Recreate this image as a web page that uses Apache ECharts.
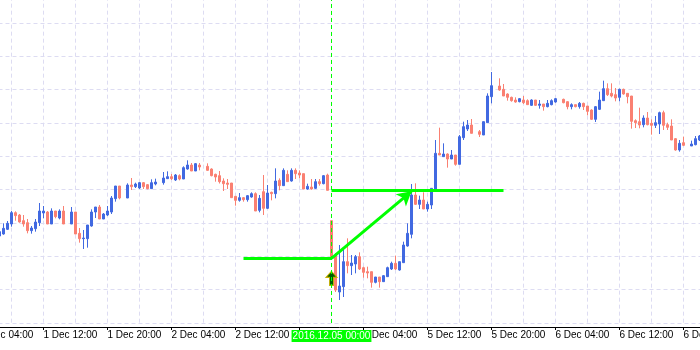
<!DOCTYPE html>
<html>
<head>
<meta charset="utf-8">
<script src="https://cdn.jsdelivr.net/npm/echarts@6/dist/echarts.min.js"></script>
<style>
  html, body { margin: 0; padding: 0; background: #ffffff; overflow: hidden; width: 700px; height: 350px; }
  #chart { position: absolute; left: -24px; top: -12px; width: 728px; height: 362px; }
</style>
</head>
<body>
<div id="chart"></div>
<script>
// EURUSD M30, 1 Dec 04:00 – 6 Dec 22:00 2016 (weekend skipped)
const categories = [
  '2016.12.01 04:00','2016.12.01 04:30','2016.12.01 05:00','2016.12.01 05:30','2016.12.01 06:00','2016.12.01 06:30','2016.12.01 07:00','2016.12.01 07:30',
  '2016.12.01 08:00','2016.12.01 08:30','2016.12.01 09:00','2016.12.01 09:30','2016.12.01 10:00','2016.12.01 10:30','2016.12.01 11:00','2016.12.01 11:30',
  '2016.12.01 12:00','2016.12.01 12:30','2016.12.01 13:00','2016.12.01 13:30','2016.12.01 14:00','2016.12.01 14:30','2016.12.01 15:00','2016.12.01 15:30',
  '2016.12.01 16:00','2016.12.01 16:30','2016.12.01 17:00','2016.12.01 17:30','2016.12.01 18:00','2016.12.01 18:30','2016.12.01 19:00','2016.12.01 19:30',
  '2016.12.01 20:00','2016.12.01 20:30','2016.12.01 21:00','2016.12.01 21:30','2016.12.01 22:00','2016.12.01 22:30','2016.12.01 23:00','2016.12.01 23:30',
  '2016.12.02 00:00','2016.12.02 00:30','2016.12.02 01:00','2016.12.02 01:30','2016.12.02 02:00','2016.12.02 02:30','2016.12.02 03:00','2016.12.02 03:30',
  '2016.12.02 04:00','2016.12.02 04:30','2016.12.02 05:00','2016.12.02 05:30','2016.12.02 06:00','2016.12.02 06:30','2016.12.02 07:00','2016.12.02 07:30',
  '2016.12.02 08:00','2016.12.02 08:30','2016.12.02 09:00','2016.12.02 09:30','2016.12.02 10:00','2016.12.02 10:30','2016.12.02 11:00','2016.12.02 11:30',
  '2016.12.02 12:00','2016.12.02 12:30','2016.12.02 13:00','2016.12.02 13:30','2016.12.02 14:00','2016.12.02 14:30','2016.12.02 15:00','2016.12.02 15:30',
  '2016.12.02 16:00','2016.12.02 16:30','2016.12.02 17:00','2016.12.02 17:30','2016.12.02 18:00','2016.12.02 18:30','2016.12.02 19:00','2016.12.02 19:30',
  '2016.12.02 20:00','2016.12.02 20:30','2016.12.02 21:00','2016.12.02 21:30','2016.12.02 22:00','2016.12.02 22:30','2016.12.02 23:00','2016.12.02 23:30',
  '2016.12.05 00:00','2016.12.05 00:30','2016.12.05 01:00','2016.12.05 01:30','2016.12.05 02:00','2016.12.05 02:30','2016.12.05 03:00','2016.12.05 03:30',
  '2016.12.05 04:00','2016.12.05 04:30','2016.12.05 05:00','2016.12.05 05:30','2016.12.05 06:00','2016.12.05 06:30','2016.12.05 07:00','2016.12.05 07:30',
  '2016.12.05 08:00','2016.12.05 08:30','2016.12.05 09:00','2016.12.05 09:30','2016.12.05 10:00','2016.12.05 10:30','2016.12.05 11:00','2016.12.05 11:30',
  '2016.12.05 12:00','2016.12.05 12:30','2016.12.05 13:00','2016.12.05 13:30','2016.12.05 14:00','2016.12.05 14:30','2016.12.05 15:00','2016.12.05 15:30',
  '2016.12.05 16:00','2016.12.05 16:30','2016.12.05 17:00','2016.12.05 17:30','2016.12.05 18:00','2016.12.05 18:30','2016.12.05 19:00','2016.12.05 19:30',
  '2016.12.05 20:00','2016.12.05 20:30','2016.12.05 21:00','2016.12.05 21:30','2016.12.05 22:00','2016.12.05 22:30','2016.12.05 23:00','2016.12.05 23:30',
  '2016.12.06 00:00','2016.12.06 00:30','2016.12.06 01:00','2016.12.06 01:30','2016.12.06 02:00','2016.12.06 02:30','2016.12.06 03:00','2016.12.06 03:30',
  '2016.12.06 04:00','2016.12.06 04:30','2016.12.06 05:00','2016.12.06 05:30','2016.12.06 06:00','2016.12.06 06:30','2016.12.06 07:00','2016.12.06 07:30',
  '2016.12.06 08:00','2016.12.06 08:30','2016.12.06 09:00','2016.12.06 09:30','2016.12.06 10:00','2016.12.06 10:30','2016.12.06 11:00','2016.12.06 11:30',
  '2016.12.06 12:00','2016.12.06 12:30','2016.12.06 13:00','2016.12.06 13:30','2016.12.06 14:00','2016.12.06 14:30','2016.12.06 15:00','2016.12.06 15:30',
  '2016.12.06 16:00','2016.12.06 16:30','2016.12.06 17:00','2016.12.06 17:30','2016.12.06 18:00','2016.12.06 18:30','2016.12.06 19:00','2016.12.06 19:30',
  '2016.12.06 20:00','2016.12.06 20:30','2016.12.06 21:00','2016.12.06 21:30','2016.12.06 22:00'
];

const openP = [null,null,null,null,null,
  1.05844,1.05868,1.05924,1.05988,1.06124,1.06096,1.06028,1.06004,1.05908,1.05932,
  1.06004,1.0612,1.06132,1.05988,1.06144,1.0606,1.06144,null,1.05988,1.06132,
  1.05876,1.05812,1.05812,1.05964,1.06132,1.06192,1.06048,1.06096,1.06132,1.06292,
  1.06444,null,1.063,1.06456,1.06436,1.0642,1.06484,1.0646,1.06412,1.06468,
  null,1.06484,1.06532,1.06556,1.06516,1.06568,1.06528,1.06648,1.06696,1.06624,
  1.06696,null,1.0668,1.06648,1.06584,1.06568,1.06504,1.0648,1.0648,1.0632,
  1.06272,1.06304,1.0628,1.06312,1.06352,1.06152,1.06376,1.06176,1.06368,1.06352,
  1.06512,1.06448,1.06584,1.06504,1.06632,1.066,1.06592,1.06408,1.06432,1.06416,
  1.06496,1.06472,1.06576,1.06028,1.05616,1.05172,1.05236,1.05536,1.05488,1.05508,
  1.05596,1.05464,1.05416,1.05416,1.05288,1.05352,1.05296,1.05356,1.05448,1.05516,
  1.05436,1.05524,1.05724,1.05864,1.06336,1.06224,1.06276,1.06168,1.06216,1.06396,
  1.06836,1.06796,1.06828,1.06768,1.06816,1.06704,1.07024,1.07128,1.07176,null,
  1.07096,1.07056,1.07204,1.07516,null,1.07644,1.07604,1.07548,1.07508,1.07476,
  1.07456,1.07476,1.07468,1.07412,1.07476,1.07412,1.07428,1.07396,1.0742,1.07452,
  null,1.07484,1.07456,1.07396,1.0742,1.07396,1.07436,1.07404,1.07356,1.07244,
  1.07364,1.07468,1.07612,1.07556,1.0754,1.07508,1.07604,1.07556,1.07524,1.07228,
  1.07216,1.0718,1.0726,1.07196,1.07172,1.07188,1.07324,1.0718,1.07164,1.07012,
  1.06876,1.06964,null,1.06924,1.0694,1.06996
];

const closeP = [null,null,null,null,null,
  1.05896,1.05936,1.05996,1.06124,1.06088,1.06012,1.05988,1.05908,1.0594,1.06012,
  1.06144,1.06144,1.05988,1.06144,1.06076,1.06144,1.05988,null,1.06132,1.05868,
  1.05812,1.0582,1.05976,1.06132,1.06192,1.06048,1.06108,1.06144,1.063,1.06444,
  1.063,null,1.06456,1.06436,1.06468,1.06484,1.06436,1.06412,1.06484,1.06492,
  null,1.0654,1.06556,1.06532,1.06576,1.06528,1.06664,1.06696,1.06624,1.06712,
  1.06672,null,1.06632,1.06568,1.06552,1.06496,1.06472,1.06464,1.06304,1.06272,
  1.06304,1.0628,1.06328,1.06352,1.06144,1.06296,1.06176,1.0636,1.06352,1.06504,
  1.06448,1.06632,1.06496,1.06632,1.06592,1.06576,1.06408,1.0644,1.06408,1.06496,
  1.06472,1.06568,1.06392,1.0558,1.05196,1.05244,1.05536,1.05488,1.0552,1.05596,
  1.05448,1.05408,1.054,1.05288,1.05352,1.05296,1.05368,1.05464,1.05516,1.05448,
  1.05536,1.05736,1.05876,1.06336,1.06224,1.06276,1.06168,1.06224,1.06416,1.06836,
  1.06816,1.06828,1.06768,1.06816,1.06704,1.07036,1.07156,1.07176,1.07076,null,
  1.07064,1.07216,1.07524,1.07648,null,1.07596,1.07524,1.07508,1.07468,1.07452,
  1.07492,1.07444,1.0742,1.07476,1.07412,1.07428,1.07396,1.07436,1.07468,1.07492,
  null,1.07444,1.07396,1.0742,1.07396,1.07436,1.07396,1.0734,1.07244,1.07396,
  1.07476,1.07612,1.0754,1.07524,1.075,1.07604,1.07548,1.07516,1.0722,1.07204,
  1.07176,1.0726,1.0718,1.07172,1.07204,1.07324,1.07172,1.07148,1.06996,1.06876,
  1.06956,1.06932,null,1.06948,1.07012,1.07044
];

const lowP = [null,null,null,null,null,
  1.05828,1.0586,1.05916,1.05956,1.06028,1.06004,1.05956,1.05876,1.05872,1.05896,
  1.05964,1.06056,1.05988,1.05988,1.06056,1.06044,1.05988,null,1.05988,1.05868,
  1.05764,1.05688,1.05704,1.05956,1.0606,1.06048,1.06048,1.06084,1.06108,1.06256,
  1.06284,null,1.063,1.06396,1.0642,1.06408,1.06408,1.06404,1.06412,1.06452,
  null,1.0646,1.06532,1.06516,1.06504,1.06512,1.06528,1.0664,1.06624,1.06624,
  1.06632,null,1.06628,1.0656,1.06496,1.06474,1.06384,1.06408,1.06304,1.06208,
  1.06256,1.06256,1.06256,1.06304,1.06144,1.06128,1.06096,1.06168,1.06272,1.06296,
  1.06392,1.06448,1.06496,1.06496,1.06528,1.06536,1.06408,1.064,1.064,1.06408,
  1.06448,1.06464,1.06392,1.05568,1.05172,1.05076,1.05112,1.05396,1.05376,1.05396,
  1.05436,1.05344,1.05336,1.05224,1.05276,1.05224,1.05296,1.05356,1.05436,1.05436,
  1.05428,1.05524,1.05716,1.05816,1.06216,1.06168,1.06168,1.06136,1.06168,1.06376,
  1.06816,1.06796,1.06664,1.06768,1.06688,1.06704,1.06996,1.07104,1.07076,null,
  1.07032,1.07056,1.07204,1.07436,null,1.07588,1.07524,1.07468,1.07456,1.07444,
  1.07448,1.07428,1.0742,1.07404,1.07404,1.07372,1.07348,1.07388,1.07412,1.07444,
  null,1.07436,1.07364,1.07364,1.07388,1.07372,1.07356,1.07292,1.07236,1.07212,
  1.07356,1.07468,1.07524,1.07508,1.0746,1.0746,1.0754,1.07436,1.07132,1.0714,
  1.07136,1.07148,1.07172,1.0706,1.0714,1.07068,1.07116,1.07116,1.06996,1.06868,
  1.06856,1.06924,null,1.06924,1.06932,1.06984
];

const highP = [null,null,null,null,null,
  1.05916,1.05996,1.06024,1.06144,1.0614,1.06108,1.06096,1.06048,1.05964,1.06048,
  1.0624,1.06204,1.06144,1.06176,1.06144,1.06164,1.06204,null,1.06192,1.06132,
  1.0594,1.05916,1.05976,1.06164,1.06192,1.06216,1.0612,1.06204,1.06324,1.06444,
  1.06444,null,1.06476,1.0654,1.06484,1.06492,1.06492,1.06468,1.06524,1.06532,
  null,1.06612,1.0662,1.06588,1.06588,1.06584,1.0668,1.06752,1.0672,1.0672,
  1.0672,null,1.06716,1.06656,1.06592,1.06624,1.06536,1.06528,1.0648,1.0632,
  1.0636,1.06312,1.06336,1.06368,1.06368,1.06336,1.06576,1.06456,1.06376,1.06656,
  1.06536,1.06656,1.06632,1.06656,1.06656,1.06632,1.06592,1.06472,1.06528,1.06528,
  1.06528,1.06576,1.06592,1.06028,1.0564,1.05736,1.05676,1.05816,1.05616,1.05616,
  1.05648,1.05476,1.05476,1.05416,1.05352,1.05352,1.05376,1.05476,1.05536,1.05608,
  1.05536,1.05776,1.05996,1.06468,1.06476,1.06328,1.06368,1.06256,1.06416,1.06996,
  1.07144,1.06956,1.06836,1.06876,1.06816,1.07056,1.07216,1.07236,1.07248,null,
  1.07116,1.07216,1.07556,1.07812,null,1.07736,1.07668,1.07556,1.07516,1.07508,
  1.075,1.07524,1.07484,1.07484,1.07476,1.07476,1.07428,1.07476,1.07484,1.075,
  null,1.07492,1.0746,1.07436,1.0742,1.07452,1.07444,1.07404,1.07364,1.07404,
  1.07576,1.07708,1.07676,1.07676,1.0762,1.07612,1.07612,1.07556,1.07524,1.07244,
  1.07384,1.07292,1.07332,1.07244,1.07284,1.07336,1.07348,1.07204,1.07244,1.0702,
  1.06996,1.07036,null,1.06988,1.07044,1.07056
];

// Analyst annotations (time, price)
const crossTime = '2016.12.05 00:00';
const supportLine = [['2016.12.02 13:00', 1.05576], ['2016.12.05 00:00', 1.05576]];
const targetLine  = [['2016.12.05 00:00', 1.06392], ['2016.12.05 21:30', 1.06392]];
const trendArrow  = [['2016.12.05 00:00', 1.05576], ['2016.12.05 10:00', 1.0638]];
const buySignal   = ['2016.12.05 00:00', 1.05336];

// y scale (no price labels shown)
const yMin = 1.0480, yMax = 1.0880, yStep = 0.0040;

const candleData = categories.map((_, k) =>
  openP[k] === null ? ['-', '-', '-', '-'] : [openP[k], closeP[k], lowP[k], highP[k]]
);

const GREEN = '#00ff00';
const GRID = '#dddcf2';

const chart = echarts.init(document.getElementById('chart'), null, { renderer: 'canvas' });
chart.setOption({
  animation: false,
  backgroundColor: '#ffffff',
  grid: { left: 1.5, right: 2.5, top: 1.6667, bottom: 27, containLabel: false, outerBoundsMode: 'none' },
  xAxis: {
    type: 'category',
    data: categories,
    boundaryGap: true,
    offset: 4,
    axisLine: { show: true, lineStyle: { color: '#000000', width: 1 } },
    axisTick: { show: true, interval: 15, alignWithLabel: true, length: 3, lineStyle: { color: '#000000' } },
    axisLabel: {
      interval: 15,
      align: 'left',
      margin: 3,
      color: '#000000',
      fontSize: 10,
      fontFamily: 'Liberation Sans, Arial, sans-serif',
      formatter: v => parseInt(v.slice(8, 10), 10) + ' Dec ' + v.slice(11)
    },
    splitLine: { show: true, interval: 7, alignWithLabel: true, lineStyle: { color: GRID, type: [4, 3], width: 1 } },
    axisPointer: {
      show: true,
      type: 'line',
      value: categories.indexOf(crossTime),
      status: 'show',
      snap: false,
      triggerTooltip: false,
      lineStyle: { color: GREEN, type: [4, 3], width: 1 },
      label: {
        show: true,
        backgroundColor: GREEN,
        color: '#ffffff',
        fontSize: 10,
        fontFamily: 'Liberation Sans, Arial, sans-serif',
        padding: [1, 1, 1, 1],
        margin: 3,
        borderRadius: 0,
        shadowBlur: 0
      },
      handle: { show: false }
    }
  },
  yAxis: {
    type: 'value',
    min: yMin,
    max: yMax,
    interval: yStep,
    axisLine: { show: false },
    axisTick: { show: false },
    axisLabel: { show: false },
    splitLine: { show: true, lineStyle: { color: GRID, type: [4, 3], width: 1 } }
  },
  series: [{
    type: 'candlestick',
    data: candleData,
    barWidth: 2,
    itemStyle: {
      color: '#4169e1',
      color0: '#fa8072',
      borderColor: '#4169e1',
      borderColor0: '#fa8072',
      borderWidth: 1
    },
    markLine: {
      silent: true,
      animation: false,
      symbol: ['none', 'none'],
      label: { show: false },
      lineStyle: { color: GREEN, width: 3, type: 'solid' },
      emphasis: { disabled: true },
      data: [
        [{ coord: supportLine[0] }, { coord: supportLine[1] }],
        [{ coord: targetLine[0] }, { coord: targetLine[1] }],
        [{ coord: trendArrow[0], symbol: 'none' }, { coord: trendArrow[1], symbol: 'arrow', symbolSize: [12, 14] }]
      ]
    },
    markPoint: {
      silent: true,
      animation: false,
      symbol: 'path://M5.5,0 L11,6 L7.5,6 L7.5,14 L3.5,14 L3.5,6 L0,6 Z',
      symbolSize: [11, 14],
      itemStyle: { color: '#005a00', borderColor: '#c8b000', borderWidth: 1 },
      label: { show: false },
      data: [{ coord: buySignal }]
    }
  }]
});
</script>
</body>
</html>
